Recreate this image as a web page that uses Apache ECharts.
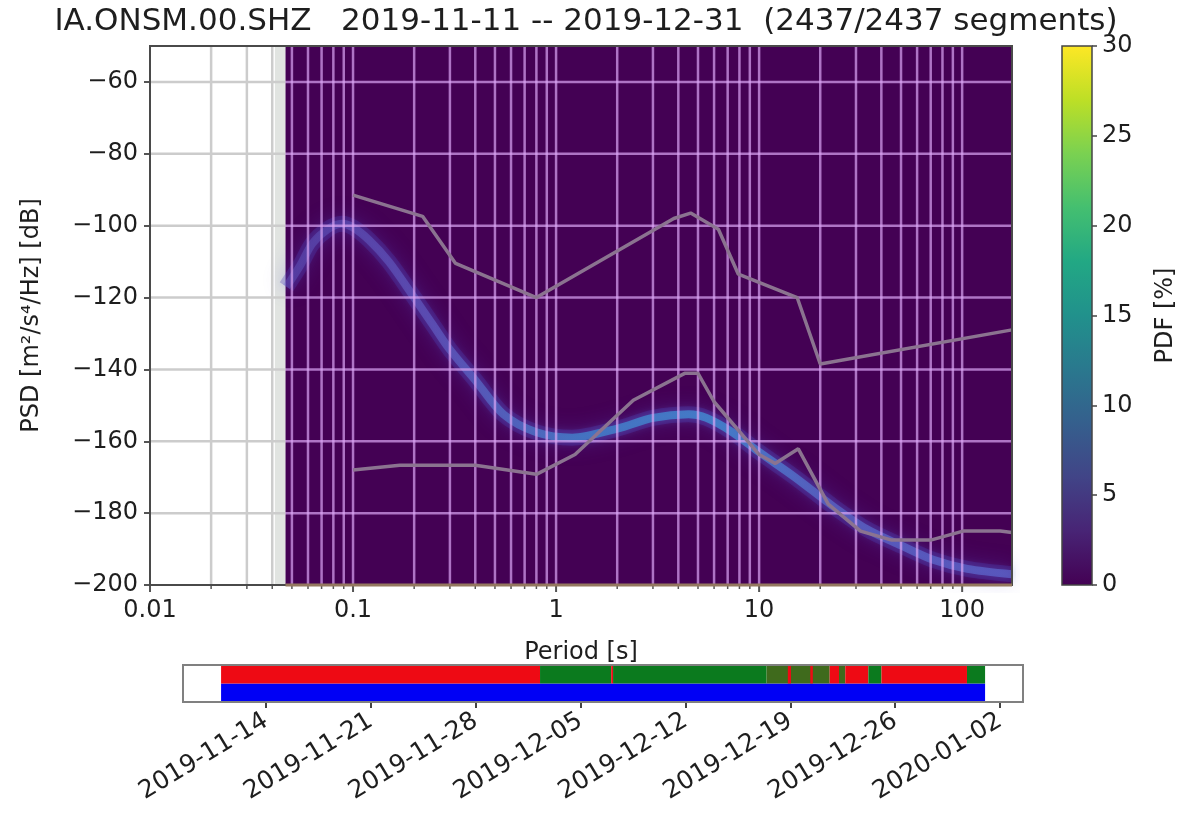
<!DOCTYPE html>
<html>
<head>
<meta charset="utf-8">
<title>PPSD IA.ONSM.00.SHZ</title>
<script src="https://cdn.jsdelivr.net/npm/echarts@6/dist/echarts.min.js"></script>
<style>
  html, body { margin: 0; padding: 0; background: #fff; }
  #chart { width: 1182px; height: 821px; }
</style>
</head>
<body>
<div id="chart"></div>
<script>
// ---- data ----
const titleText = "IA.ONSM.00.SHZ   2019-11-11 -- 2019-12-31  (2437/2437 segments)";

const periodMin = 0.01;
const periodMax = 176;
const psdMin = -200;
const psdMax = -50;
const pdfStart = 0.0465; // first period bin that holds PDF values

const psdTicks = [-200, -180, -160, -140, -120, -100, -80, -60];
const psdGrid = [-180, -160, -140, -120, -100, -80, -60];
const periodGrid = [
  0.01, 0.02, 0.03, 0.04, 0.05, 0.06, 0.07, 0.08, 0.09,
  0.1, 0.2, 0.3, 0.4, 0.5, 0.6, 0.7, 0.8, 0.9,
  1, 2, 3, 4, 5, 6, 7, 8, 9,
  10, 20, 30, 40, 50, 60, 70, 80, 90,
  100
];
const pdfTicks = [0, 5, 10, 15, 20, 25, 30];

// Peterson high / low noise models (period s, dB)
const nhnm = [
  [0.1, -91.5], [0.22, -97.4], [0.32, -110.5], [0.8, -120.0], [3.8, -98.0],
  [4.6, -96.5], [6.3, -101.0], [7.9, -113.5], [15.4, -120.0], [20, -138.5],
  [176, -129.0]
];
const nlnm = [
  [0.1, -168.0], [0.17, -166.7], [0.4, -166.7], [0.8, -169.2], [1.24, -163.7],
  [2.4, -148.6], [4.3, -141.1], [5.0, -141.1], [6.0, -149.0], [10, -163.7],
  [12, -166.2], [15.6, -162.1], [21.9, -177.5], [31.6, -185.0], [45, -187.5],
  [70, -187.5], [101, -185.0], [154, -185.0], [176, -185.4]
];

// ridge of the probability density (period s, dB)
const pdfMode = [
  [0.047, -117], [0.055, -111], [0.063, -105], [0.075, -101], [0.088, -99.5],
  [0.1, -100.5], [0.12, -104], [0.15, -110], [0.2, -120], [0.25, -128],
  [0.3, -134.5], [0.4, -143], [0.55, -152.5], [0.8, -157.5], [1.2, -159],
  [2, -156.5], [3, -153.5], [4.5, -152.5], [5.5, -153.5], [7.4, -157.5],
  [10, -163], [15, -170], [23, -178], [34, -184.5], [50, -189],
  [72, -193], [106, -195.5], [176, -197]
];

// timeline under the plot
const timeStart = "2019-11-08T11:00";
const timeEnd = "2020-01-03T12:45";
const timelineTicks = [
  "2019-11-14", "2019-11-21", "2019-11-28", "2019-12-05",
  "2019-12-12", "2019-12-19", "2019-12-26", "2020-01-02"
];
const dataSpans = [
  ["2019-11-11T00:00", "2020-01-01T00:00"]
];
// r = red, g = green, d = dull / mixed
const usedSpans = [
  ["2019-11-11T00:00", "2019-12-02T07:00", "r"],
  ["2019-12-02T07:00", "2019-12-07T01:00", "g"],
  ["2019-12-07T01:00", "2019-12-07T04:00", "r"],
  ["2019-12-07T04:00", "2019-12-17T10:00", "g"],
  ["2019-12-17T10:00", "2019-12-21T15:00", "d"],
  ["2019-12-18T20:00", "2019-12-19T01:00", "r"],
  ["2019-12-20T08:00", "2019-12-20T12:00", "r"],
  ["2019-12-21T15:00", "2019-12-22T06:00", "r"],
  ["2019-12-22T06:00", "2019-12-22T16:00", "d"],
  ["2019-12-22T16:00", "2019-12-24T05:00", "r"],
  ["2019-12-24T05:00", "2019-12-25T02:00", "g"],
  ["2019-12-25T02:00", "2019-12-30T19:00", "r"],
  ["2019-12-30T19:00", "2020-01-01T00:00", "g"]
];

// ---- styling ----
const FONT = "DejaVu Sans";
const TEXT = "#1e1e1e";
const AXIS = "#555555";
const gridOnWhite = "#cccccc";
const gridOnPdf = "rgba(220,165,245,0.7)";
const viridis = ["#440154", "#482475", "#414487", "#355f8d", "#2a788e", "#21918c",
  "#22a884", "#44bf70", "#7ad151", "#bddf26", "#fde725"];
const spanFill = ["#ee0a14", "#0b7a1e", "#0000f5", "#3f6a1c"];
const spanKeys = ["r", "g", "b", "d"];

const ms = (s) => Date.parse(s.length === 10 ? s + "T00:00:00Z" : s + ":00Z");
const minus = (v) => String(v).replace("-", "\u2212");

function isDecade(v) {
  const e = Math.log10(v);
  return Math.abs(e - Math.round(e)) < 1e-6;
}

function renderPdfBackground(params, api) {
  const a = api.coord([api.value(0), psdMax]);
  const b = api.coord([api.value(1), psdMin]);
  return {
    type: "rect",
    shape: { x: a[0], y: a[1], width: b[0] - a[0], height: b[1] - a[1] },
    style: { fill: api.value(2) ? "#440154" : "#e1e4e1" }
  };
}

function renderPeriodGrid(params, api) {
  const p = api.value(0);
  const top = api.coord([p, psdMax]);
  const bot = api.coord([p, psdMin]);
  const major = isDecade(p);
  const children = [];
  if (p > periodMin) {
    children.push({
      type: "line",
      shape: { x1: top[0], y1: top[1], x2: bot[0], y2: bot[1] },
      style: { stroke: p >= pdfStart ? gridOnPdf : gridOnWhite, lineWidth: 2.5 }
    });
  }
  children.push({
    type: "line",
    shape: { x1: bot[0], y1: bot[1], x2: bot[0], y2: bot[1] + (major ? 7 : 4) },
    style: { stroke: AXIS, lineWidth: major ? 2 : 1.5 }
  });
  return { type: "group", children: children };
}

function renderPsdGrid(params, api) {
  const v = api.value(1);
  const a = api.coord([periodMin, v]);
  const b = api.coord([pdfStart, v]);
  const c = api.coord([periodMax, v]);
  return {
    type: "group",
    children: [
      { type: "line", shape: { x1: a[0], y1: a[1], x2: b[0], y2: b[1] },
        style: { stroke: gridOnWhite, lineWidth: 2.5 } },
      { type: "line", shape: { x1: b[0], y1: b[1], x2: c[0], y2: c[1] },
        style: { stroke: gridOnPdf, lineWidth: 2.5 } }
    ]
  };
}

function renderPdfEdge(params, api) {
  const b = api.coord([api.value(0), psdMin]);
  const c = api.coord([api.value(1), psdMin]);
  return {
    type: "line",
    shape: { x1: b[0], y1: b[1], x2: c[0], y2: c[1] },
    style: { stroke: "#94785f", lineWidth: 3 }
  };
}

function renderSpan(params, api) {
  const row = api.value(3);
  const a = api.coord([api.value(0), row + 1]);
  const b = api.coord([api.value(1), row]);
  return {
    type: "rect",
    shape: { x: a[0], y: a[1], width: b[0] - a[0], height: b[1] - a[1] },
    style: { fill: spanFill[api.value(2)] }
  };
}

const spanData = dataSpans.map(s => [ms(s[0]), ms(s[1]), 2, 0])
  .concat(usedSpans.map(s => [ms(s[0]), ms(s[1]), spanKeys.indexOf(s[2]), 1]));

const viridisGradient = new echarts.graphic.LinearGradient(0, 1, 0, 0,
  viridis.map((c, i) => ({ offset: i / (viridis.length - 1), color: c })));

const bandCore = new echarts.graphic.LinearGradient(0, 0, 1, 0, [
  { offset: 0, color: "rgba(110,110,215,0.3)" },
  { offset: 0.2, color: "rgba(110,115,220,0.45)" },
  { offset: 0.4, color: "rgba(65,140,210,0.7)" },
  { offset: 0.6, color: "rgba(65,145,215,0.75)" },
  { offset: 0.75, color: "rgba(95,125,220,0.55)" },
  { offset: 1, color: "rgba(100,120,225,0.55)" }
]);

const tickLabel = { fontFamily: FONT, fontSize: 24, color: TEXT };

const chart = echarts.init(document.getElementById("chart"), null, { renderer: "canvas" });
chart.setOption({
  animation: false,
  backgroundColor: "#ffffff",
  title: {
    text: titleText,
    left: 581,
    top: 1,
    textAlign: "center",
    textStyle: { fontFamily: FONT, fontSize: 31, fontWeight: "normal", color: TEXT }
  },
  grid: [
    { left: 150, top: 46, width: 862, height: 539, show: true, z: 10,
      borderColor: "#4a4a4a", borderWidth: 2, backgroundColor: "transparent" },
    { left: 1062, top: 46, width: 30, height: 539, show: true, z: 10,
      borderColor: "#444", borderWidth: 1.5, backgroundColor: "transparent" },
    { left: 183, top: 665, width: 840, height: 37, show: true, z: 10,
      borderColor: "#808080", borderWidth: 2, backgroundColor: "transparent" }
  ],
  xAxis: [
    {
      gridIndex: 0, type: "log", logBase: 10, min: periodMin, max: periodMax,
      name: "Period [s]", nameLocation: "middle", nameGap: 56,
      nameTextStyle: { fontFamily: FONT, fontSize: 24, color: TEXT },
      axisLine: { show: true, lineStyle: { color: AXIS, width: 2 } },
      axisTick: { show: false },
      splitLine: { show: false },
      axisLabel: Object.assign({}, tickLabel, {
        margin: 14,
        formatter: v => isDecade(v) ? String(+v.toPrecision(3)) : ""
      })
    },
    {
      gridIndex: 1, type: "category", data: ["PDF"], show: false
    },
    {
      gridIndex: 2, type: "value", min: ms(timeStart), max: ms(timeEnd),
      axisLine: { show: false },
      splitLine: { show: false },
      axisTick: {
        show: true, length: 6, lineStyle: { color: "#444", width: 2 },
        customValues: timelineTicks.map(ms)
      },
      axisLabel: Object.assign({}, tickLabel, {
        fontSize: 25, rotate: 31, margin: 17,
        customValues: timelineTicks.map(ms),
        formatter: v => new Date(v).toISOString().slice(0, 10)
      })
    }
  ],
  yAxis: [
    {
      gridIndex: 0, type: "value", min: psdMin, max: psdMax, interval: 20,
      name: "PSD [m²/s⁴/Hz] [dB]", nameLocation: "middle", nameGap: 106, nameRotate: 90,
      nameTextStyle: { fontFamily: FONT, fontSize: 24, color: TEXT },
      axisLine: { show: true, lineStyle: { color: AXIS, width: 2 } },
      axisTick: { show: true, length: 6, lineStyle: { color: AXIS, width: 2 }, customValues: psdTicks },
      splitLine: { show: false },
      axisLabel: Object.assign({}, tickLabel, { margin: 12, customValues: psdTicks, formatter: minus })
    },
    {
      gridIndex: 1, type: "value", position: "right", min: 0, max: 30, interval: 5,
      name: "PDF [%]", nameLocation: "middle", nameGap: 62, nameRotate: 90,
      nameTextStyle: { fontFamily: FONT, fontSize: 24, color: TEXT },
      axisLine: { show: false },
      axisTick: { show: true, length: 5, lineStyle: { color: "#444", width: 1.5 } },
      splitLine: { show: false },
      axisLabel: Object.assign({}, tickLabel, { margin: 10 })
    },
    {
      gridIndex: 2, type: "value", min: 0, max: 2, show: false
    }
  ],
  series: [
    {
      name: "pdf area", type: "custom", xAxisIndex: 0, yAxisIndex: 0, z: 1,
      renderItem: renderPdfBackground, silent: true,
      data: [[0.0412, pdfStart, 0], [pdfStart, periodMax, 1]],
      encode: { x: [0, 1] }
    },
    {
      name: "pdf halo", type: "line", xAxisIndex: 0, yAxisIndex: 0, z: 2,
      data: pdfMode, smooth: 0.3, showSymbol: false, silent: true,
      lineStyle: { width: 16, color: "rgba(75,60,180,0.3)", shadowBlur: 20, shadowColor: "rgba(85,75,205,0.85)" }
    },
    {
      name: "pdf core", type: "line", xAxisIndex: 0, yAxisIndex: 0, z: 2,
      data: pdfMode, smooth: 0.3, showSymbol: false, silent: true,
      lineStyle: { width: 8, color: bandCore, shadowBlur: 8, shadowColor: "rgba(90,130,225,0.6)" }
    },
    {
      name: "period grid", type: "custom", xAxisIndex: 0, yAxisIndex: 0, z: 3,
      renderItem: renderPeriodGrid, silent: true, clip: false,
      data: periodGrid.map(p => [p, psdMin]),
      encode: { x: 0, y: 1 }
    },
    {
      name: "psd grid", type: "custom", xAxisIndex: 0, yAxisIndex: 0, z: 3,
      renderItem: renderPsdGrid, silent: true,
      data: psdGrid.map(v => [periodMin, v]),
      encode: { x: 0, y: 1 }
    },
    {
      name: "NHNM", type: "line", xAxisIndex: 0, yAxisIndex: 0, z: 4,
      data: nhnm, showSymbol: false, silent: true,
      lineStyle: { width: 3.5, color: "#8b7390" }
    },
    {
      name: "NLNM", type: "line", xAxisIndex: 0, yAxisIndex: 0, z: 4,
      data: nlnm, showSymbol: false, silent: true,
      lineStyle: { width: 3.5, color: "#8b7390" }
    },
    {
      name: "pdf edge", type: "custom", xAxisIndex: 0, yAxisIndex: 0, z: 11,
      renderItem: renderPdfEdge, silent: true, clip: false,
      data: [[pdfStart, periodMax]],
      encode: { x: [0, 1] }
    },
    {
      name: "colorbar", type: "bar", xAxisIndex: 1, yAxisIndex: 1,
      data: [pdfTicks[pdfTicks.length - 1]], barWidth: "100%", silent: true,
      itemStyle: { color: viridisGradient }
    },
    {
      name: "coverage", type: "custom", xAxisIndex: 2, yAxisIndex: 2,
      renderItem: renderSpan, silent: true,
      data: spanData,
      encode: { x: [0, 1], y: 3 }
    }
  ]
});
</script>
</body>
</html>
